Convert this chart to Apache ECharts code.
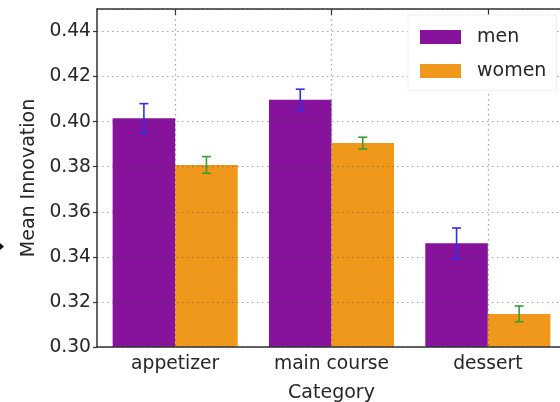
<!DOCTYPE html>
<html>
<head>
<meta charset="utf-8">
<script src="https://cdn.jsdelivr.net/npm/echarts@6/dist/echarts.min.js"></script>
<style>
  html, body { margin: 0; padding: 0; background: #fff; }
  #chart { width: 560px; height: 402px; }
</style>
</head>
<body>
<div id="chart"></div>
<script>
// Mean innovation per course category, split by gender, with error bars
const categories = ['appetizer', 'main course', 'dessert'];
const menMean = [0.4015, 0.4097, 0.3460];
const menErr = [0.0065, 0.0047, 0.0068];
const womenMean = [0.3808, 0.3905, 0.3147];
const womenErr = [0.0037, 0.0026, 0.0035];
const yTicks = { min: 0.30, max: 0.45, step: 0.02 };

const FONT = 'DejaVu Sans';
const TEXT = '#262626';
const PURPLE = '#87129b';
const ORANGE = '#ef981c';
const BAR_FRAC = 0.4;

const chart = echarts.init(document.getElementById('chart'), null, { renderer: 'canvas' });

const gridLine = { show: true, lineStyle: { color: 'rgba(70,70,70,0.5)', width: 1.2, type: [1.5, 3.5] } };

// Error bar renderer; side = -1 for the left bar of a group, +1 for the right one
function errorBars(side, color) {
  return function (params, api) {
    const idx = api.value(0);
    const lo = api.coord([idx, api.value(1)]);
    const hi = api.coord([idx, api.value(2)]);
    const band = api.size([1, 0])[0];
    const x = lo[0] + side * band * BAR_FRAC / 2;
    const cap = 4.5;
    const style = { stroke: color, lineWidth: 1.6 };
    return {
      type: 'group',
      children: [
        { type: 'line', shape: { x1: x, y1: lo[1], x2: x, y2: hi[1] }, style },
        { type: 'line', shape: { x1: x - cap, y1: lo[1], x2: x + cap, y2: lo[1] }, style },
        { type: 'line', shape: { x1: x - cap, y1: hi[1], x2: x + cap, y2: hi[1] }, style }
      ]
    };
  };
}

const menErrData = menMean.map((m, i) => [i, m - menErr[i], m + menErr[i]]);
const womenErrData = womenMean.map((m, i) => [i, m - womenErr[i], m + womenErr[i]]);

chart.setOption({
  animation: false,
  backgroundColor: '#fff',
  textStyle: { fontFamily: FONT },
  // the plot area runs a little past the right edge of the canvas
  grid: { left: 97, top: 9, right: -6, bottom: 55, containLabel: false, outerBoundsMode: 'none' },
  legend: {
    orient: 'vertical',
    left: 408,
    top: 15,
    padding: [12.5, 10, 10, 12],
    itemWidth: 41,
    itemHeight: 14,
    itemGap: 15,
    icon: 'rect',
    backgroundColor: '#fff',
    borderColor: '#f0f0f0',
    borderWidth: 1,
    z: 30,
    textStyle: { fontFamily: FONT, fontSize: 19, color: TEXT, padding: [0, 0, 0, 11] },
    data: ['men', 'women']
  },
  xAxis: [
    {
      type: 'category',
      data: categories,
      position: 'bottom',
      z: 10,
      name: 'Category',
      nameLocation: 'middle',
      nameGap: 37,
      nameTextStyle: { fontFamily: FONT, fontSize: 19, color: TEXT },
      axisLine: { lineStyle: { color: '#333', width: 1.5 } },
      axisTick: { show: false },
      axisLabel: { margin: 8, fontFamily: FONT, fontSize: 18.7, color: TEXT },
      splitLine: Object.assign({ alignWithLabel: true }, gridLine)
    },
    {
      type: 'category',
      data: categories,
      position: 'top',
      z: 10,
      axisLine: { lineStyle: { color: '#333', width: 1.5 } },
      axisTick: { show: true, inside: true, alignWithLabel: true, length: 6, lineStyle: { color: '#333', width: 1.2 } },
      axisLabel: { show: false },
      splitLine: { show: false }
    }
  ],
  yAxis: {
    type: 'value',
    min: yTicks.min,
    max: yTicks.max,
    interval: yTicks.step,
    z: 10,
    name: 'Mean Innovation',
    nameLocation: 'middle',
    nameGap: 57,
    nameTextStyle: { fontFamily: FONT, fontSize: 19, color: TEXT },
    axisLine: { show: true, lineStyle: { color: '#333', width: 1.5 } },
    axisTick: { show: true, length: 4, lineStyle: { color: '#333', width: 1.2 } },
    axisLabel: {
      margin: 6, fontFamily: FONT, fontSize: 18.7, color: TEXT,
      showMaxLabel: false,
      formatter: v => v.toFixed(2)
    },
    splitLine: gridLine
  },
  series: [
    {
      name: 'men', type: 'bar', data: menMean,
      barWidth: (BAR_FRAC * 100) + '%', barGap: '0%',
      itemStyle: { color: PURPLE }, z: 2
    },
    {
      name: 'women', type: 'bar', data: womenMean,
      barWidth: (BAR_FRAC * 100) + '%', barGap: '0%',
      itemStyle: { color: ORANGE }, z: 2
    },
    {
      type: 'custom', name: 'men error', data: menErrData,
      renderItem: errorBars(-1, '#2f2fe8'), z: 15, silent: true,
      encode: { x: 0, y: [1, 2] }
    },
    {
      type: 'custom', name: 'women error', data: womenErrData,
      renderItem: errorBars(1, '#33a033'), z: 15, silent: true,
      encode: { x: 0, y: [1, 2] }
    }
  ],
  graphic: [
    { type: 'polygon', shape: { points: [[0, 243], [4, 246.5], [0, 250]] }, style: { fill: '#111' } }
  ]
});
</script>
</body>
</html>
